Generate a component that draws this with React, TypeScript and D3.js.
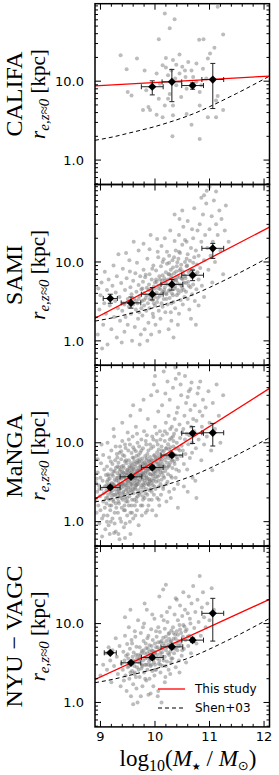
import * as React from 'react'
import * as d3 from 'd3'

type Pt = [number, number]
// [log mass, size, size low, size high, mass err]
type Bin = [number, number, number, number, number]

const surveys = ['CALIFA', 'SAMI', 'MaNGA', 'NYU − VAGC']

const xTickLabels = ['9', '10', '11', '12']
const xTickValues = [9, 10, 11, 12]
const yTickValues = [1, 10]
const yTickLabels = ['1.0', '10.0']

const fitMass = [8.9, 12.1]
const califaFit = [8.7, 11.6]
const samiFit = [1.94, 27.7]
const mangaFit = [1.93, 49]
const nyuFit = [1.96, 20.3]

const shenMass = [8.9, 9.25, 9.5, 9.75, 10, 10.25, 10.5, 10.75, 11, 11.25, 11.5, 11.75, 12.1]
const shenSize = [1.78, 1.98, 2.18, 2.4, 2.66, 3.0, 3.42, 3.98, 4.75, 5.75, 7.0, 8.6, 11.6]

const califaBins: Bin[] = [
  [9.95, 8.5, 6.7, 10.1, 0.2],
  [10.31, 9.8, 5.5, 14.1, 0.18],
  [10.69, 8.8, 7.9, 9.5, 0.2],
  [11.06, 10.5, 4.5, 16.8, 0.2],
]
const samiBins: Bin[] = [
  [9.18, 3.45, 3.0, 3.9, 0.13],
  [9.56, 3.03, 2.6, 3.6, 0.18],
  [9.95, 3.9, 3.3, 4.75, 0.2],
  [10.31, 5.2, 4.4, 6.0, 0.2],
  [10.69, 6.8, 5.8, 7.9, 0.2],
  [11.06, 14.9, 11.1, 17.2, 0.2],
]
const mangaBins: Bin[] = [
  [9.18, 2.72, 2.6, 2.85, 0.18],
  [9.56, 3.7, 3.55, 3.85, 0.2],
  [9.95, 4.87, 4.65, 5.1, 0.2],
  [10.31, 6.98, 6.6, 7.4, 0.2],
  [10.69, 13.2, 9.8, 16.0, 0.2],
  [11.06, 13.4, 9.1, 17.6, 0.2],
]
const nyuBins: Bin[] = [
  [9.18, 4.26, 4.1, 4.45, 0.11],
  [9.56, 3.18, 3.05, 3.3, 0.18],
  [9.95, 3.72, 3.55, 3.9, 0.2],
  [10.31, 5.07, 4.8, 5.35, 0.2],
  [10.69, 6.17, 5.8, 6.55, 0.2],
  [11.06, 13.5, 6.0, 20.9, 0.2],
]

const califaPts: Pt[] = [
  [10.18,72],[10.36,61],[10.27,47],[11.15,88],[10.07,34],[11.25,39],[10.81,33.5],[10.89,34],[9.37,21.3],[9.67,19.4],
  [11.01,22.4],[10.45,21.8],[10.2,19.7],[9.48,14.2],[9.81,13.7],[10.33,18.5],[10.39,16.2],[10.14,15.9],[10.2,14.9],[10.3,13.7],
  [10.5,15.2],[10.61,17.5],[10.55,13.7],[10.76,16.7],[11.09,26.5],[10.97,19.4],[10.45,12.5],[10.67,13.7],[10.88,14.4],[10.24,11.9],
  [10.03,12.5],[10.7,11.3],[10.37,10.8],[10.56,11.3],[10.09,9.3],[9.5,7.3],[9.57,6.6],[9.84,7.7],[10.24,6.0],[10.18,4.9],
  [10.33,4.9],[10.27,6.9],[10.82,7.3],[11.15,6.5],[11.12,5.7],[9.88,4.7],[9.91,4.3],[10.03,3.75],[10.14,3.5],[10.33,3.7],
  [10.58,3.85],[10.82,4.9],[10.97,3.5],[11.12,3.5],[11.25,4.3],[10.67,2.8],[10.32,2.0],[10.82,1.85],[9.78,4.3],[10.07,6.0],
  [10.48,6.3],[10.76,9.8],[10.94,10.8],[10.85,8.85],[10.39,8.85],[10.58,8.0],
]

const samiPts: Pt[] = [
  [8.95,1.2],[8.98,2.5],[9.0,3.8],[9.02,5.5],[9.05,1.6],[9.07,3.0],[9.08,7.5],[9.1,2.2],[9.12,4.4],[9.13,0.9],
  [9.15,6.0],[9.17,2.8],[9.18,3.5],[9.2,1.4],[9.22,5.0],[9.24,9.0],[9.25,2.0],[9.27,3.2],[9.28,4.1],[9.3,1.1],
  [9.3,6.6],[9.32,2.6],[9.33,12.5],[8.96,4.6],[9.03,0.8],[9.72,0.9],
  [9.35,3.6],[9.36,1.8],[9.38,5.4],[9.4,2.4],[9.41,8.2],[9.42,3.0],[9.44,1.3],[9.45,4.4],[9.46,2.0],[9.48,6.2],
  [9.5,3.4],[9.5,1.6],[9.52,2.7],[9.53,10.5],[9.55,4.8],[9.56,2.2],[9.57,3.9],[9.58,1.0],[9.6,5.8],[9.6,2.9],
  [9.62,3.4],[9.63,1.5],[9.64,7.2],[9.65,2.5],[9.66,4.2],[9.68,3.0],[9.69,1.9],[9.7,5.1],[9.7,14.0],[9.71,2.3],
  [9.72,3.7],[9.73,6.6],[9.74,1.2],[9.75,4.5],[9.39,0.95],[9.47,13.0],[9.61,18.0],[9.54,7.6],[9.67,9.8],[9.44,2.9],
  [9.76,3.2],[9.77,2.1],[9.78,5.6],[9.79,8.0],[9.8,2.8],[9.8,4.0],[9.81,1.4],[9.82,6.4],[9.83,3.5],[9.84,2.4],
  [9.85,4.7],[9.86,11.0],[9.87,3.0],[9.88,1.7],[9.89,5.2],[9.9,7.0],[9.9,2.6],[9.91,3.8],[9.92,4.4],[9.93,1.2],
  [9.94,6.0],[9.95,3.3],[9.96,2.2],[9.97,9.0],[9.98,4.9],[9.99,3.6],[10.0,5.5],[10.0,2.8],[10.01,1.6],[10.02,7.8],
  [10.03,4.1],[10.04,3.1],[10.05,13.5],[10.06,5.0],[10.07,2.4],[10.08,6.6],[10.09,3.7],[10.1,4.5],[10.1,1.9],[10.11,8.8],
  [10.12,3.0],[10.13,5.8],[10.14,2.7],[10.15,4.2],[9.79,17.0],[9.92,22.0],[10.04,19.5],[10.12,16.0],[9.86,1.0],[10.08,1.3],
  [9.83,6.9],[9.95,8.2],[10.0,3.9],[10.06,11.5],[9.9,14.5],[10.14,10.0],[9.77,4.6],[9.97,2.0],[10.02,6.0],[10.11,5.2],
  [10.16,3.4],[10.17,6.2],[10.18,4.8],[10.19,2.3],[10.2,7.4],[10.2,5.4],[10.21,3.9],[10.22,9.5],[10.23,2.9],[10.24,6.0],
  [10.25,4.3],[10.26,12.0],[10.27,3.5],[10.28,5.0],[10.29,8.0],[10.3,1.8],[10.3,6.8],[10.31,4.0],[10.32,10.5],[10.33,5.7],
  [10.34,3.1],[10.35,7.2],[10.36,4.6],[10.37,2.6],[10.38,14.0],[10.39,5.9],[10.4,8.8],[10.4,3.8],[10.41,6.5],[10.42,4.4],
  [10.43,11.0],[10.44,2.2],[10.45,7.8],[10.46,5.2],[10.47,3.3],[10.48,9.2],[10.49,6.2],[10.5,4.7],[10.5,16.5],[10.51,2.9],
  [10.52,7.0],[10.53,5.5],[10.54,3.6],[10.55,10.0],[10.18,20.0],[10.28,25.0],[10.36,18.5],[10.44,22.0],[10.52,28.0],[10.25,1.4],
  [10.42,1.6],[10.34,1.1],[10.22,13.5],[10.3,3.0],[10.46,13.0],[10.2,4.0],[10.38,6.0],[10.26,7.0],[10.48,4.3],[10.33,8.5],
  [10.41,9.9],[10.5,6.1],[10.16,10.8],[10.55,19.0],[10.29,2.3],[10.45,35.0],[10.5,45.0],[10.36,40.0],
  [10.56,6.2],[10.57,4.2],[10.58,8.8],[10.6,12.5],[10.6,3.4],[10.61,5.6],[10.62,7.4],[10.63,2.5],[10.64,10.4],[10.65,4.8],
  [10.66,15.0],[10.67,6.5],[10.68,3.9],[10.69,8.0],[10.7,20.0],[10.7,5.2],[10.72,11.5],[10.73,3.2],[10.74,7.0],[10.75,14.0],
  [10.76,4.5],[10.77,9.3],[10.78,25.0],[10.8,6.0],[10.8,12.0],[10.82,30.0],[10.83,8.4],[10.85,18.0],[10.86,5.0],[10.88,40.0],
  [10.9,10.5],[10.92,22.0],[10.94,55.0],[10.6,33.0],[10.72,48.0],[10.85,65.0],[10.95,80.0],[10.9,70.0],[10.98,95.0],[10.66,1.9],
  [10.8,2.8],[10.58,18.0],[10.9,3.6],[10.75,1.6],[10.68,26.0],
  [10.96,15.0],[10.98,8.0],[11.0,26.0],[11.02,12.0],[11.04,38.0],[11.05,5.5],[11.06,18.0],[11.08,60.0],[11.1,10.0],[11.12,30.0],
  [11.15,22.0],[11.18,45.0],[11.2,14.0],[11.22,35.0],[11.25,7.0],[11.28,25.0],[11.3,52.0],[11.35,18.0],[11.12,78.0],[11.0,90.0],
  [9.95,4.4],[9.98,3.0],[10.0,4.6],[10.03,5.6],[10.05,3.5],[10.07,4.6],[10.09,6.0],[10.12,4.0],[10.14,6.8],[10.17,4.4],
  [10.19,5.8],[10.21,3.4],[10.23,5.2],[10.25,7.0],[10.27,4.4],[10.29,6.2],[10.31,5.0],[10.33,3.8],[10.35,6.0],[10.37,4.9],
  [10.39,7.6],[10.41,5.4],[10.43,4.0],[10.45,6.4],[10.47,8.2],[10.49,5.0],[10.51,7.6],[10.53,4.4],[10.55,6.6],[10.57,5.4],
  [10.59,9.0],[10.62,5.0],[10.65,7.8],[9.85,3.8],[9.88,4.4],[9.9,3.4],[9.8,3.3],[9.75,2.6],[9.7,3.4],[9.65,3.2],
  [10.26,9.8],[10.35,11.5],[10.44,13.5],[10.58,11.0],[10.7,9.8],[10.78,7.4],
]

const mangaPts: Pt[] = [
  [8.91,1.9],[8.92,3.1],[8.93,1.3],[8.94,2.4],[8.95,4.2],[8.96,1.6],[8.97,2.9],[8.98,0.95],[8.99,2.1],[9.0,3.6],
  [9.0,1.4],[9.01,5.5],[9.02,2.6],[9.03,1.1],[9.04,3.3],[9.05,1.8],[9.05,7.0],[9.06,2.3],[9.07,4.6],[9.08,1.5],
  [9.08,2.8],[9.09,0.8],[9.1,3.9],[9.1,2.0],[8.95,6.2],[9.03,0.65],[8.98,2.6],[9.06,1.2],[9.02,9.5],[8.93,3.5],
  [9.11,2.5],[9.11,1.7],[9.12,3.2],[9.12,5.0],[9.13,1.2],[9.14,2.2],[9.14,4.0],[9.15,2.9],[9.15,0.9],[9.16,6.5],
  [9.16,1.9],[9.17,3.5],[9.18,2.4],[9.18,1.4],[9.19,4.6],[9.19,2.7],[9.2,8.0],[9.2,1.6],[9.21,3.1],[9.21,2.1],
  [9.22,5.4],[9.22,1.1],[9.23,3.8],[9.23,2.5],[9.24,1.8],[9.24,4.3],[9.25,2.9],[9.25,12.0],[9.26,1.3],[9.26,3.4],
  [9.27,6.0],[9.27,2.2],[9.28,0.75],[9.28,4.8],[9.29,2.6],[9.29,1.5],[9.3,3.6],[9.3,7.2],[9.13,10.0],[9.17,0.7],
  [9.24,15.0],[9.19,1.0],[9.28,9.0],[9.15,3.8],[9.22,2.9],
  [9.31,2.0],[9.31,4.1],[9.32,2.8],[9.32,1.3],[9.33,5.6],[9.33,3.3],[9.34,1.7],[9.34,2.4],[9.35,7.5],[9.35,3.9],
  [9.36,1.1],[9.36,2.9],[9.37,4.6],[9.37,2.1],[9.38,3.5],[9.38,6.2],[9.39,1.5],[9.39,2.7],[9.4,4.3],[9.4,10.5],
  [9.41,3.1],[9.41,1.9],[9.42,5.1],[9.42,2.4],[9.43,3.7],[9.43,0.85],[9.44,2.2],[9.44,6.8],[9.45,4.0],[9.45,1.4],
  [9.46,2.9],[9.46,8.6],[9.47,3.4],[9.47,1.8],[9.48,5.5],[9.48,2.6],[9.49,4.5],[9.49,1.2],[9.5,3.2],[9.5,13.5],
  [9.33,0.7],[9.36,9.0],[9.39,5.0],[9.42,3.0],[9.45,2.0],[9.48,3.9],[9.32,3.6],[9.35,2.3],[9.38,1.0],[9.41,7.0],
  [9.44,1.6],[9.47,6.0],[9.5,2.3],[9.4,18.0],[9.46,0.95],[9.34,4.9],[9.37,3.0],[9.43,4.8],[9.49,2.9],[9.31,6.5],
  [9.35,0.6],[9.45,0.62],[9.55,0.7],[9.25,0.72],
  [9.51,4.1],[9.51,2.7],[9.52,1.6],[9.52,6.0],[9.53,3.4],[9.53,2.1],[9.54,4.8],[9.54,9.5],[9.55,3.0],[9.55,1.3],
  [9.56,5.5],[9.56,2.5],[9.57,3.8],[9.57,7.4],[9.58,1.9],[9.58,4.4],[9.59,2.9],[9.59,12.0],[9.6,3.5],[9.6,1.1],
  [9.61,6.4],[9.61,2.3],[9.62,4.1],[9.62,8.2],[9.63,3.1],[9.63,1.6],[9.64,5.0],[9.64,2.7],[9.65,3.7],[9.65,16.0],
  [9.66,2.0],[9.66,6.8],[9.67,4.5],[9.67,1.4],[9.68,3.3],[9.68,10.0],[9.69,2.5],[9.69,5.6],[9.7,3.9],[9.7,0.9],
  [9.52,3.9],[9.54,1.0],[9.56,3.2],[9.58,2.4],[9.6,4.7],[9.62,5.8],[9.64,3.6],[9.66,4.2],[9.68,2.1],[9.7,7.0],
  [9.53,5.0],[9.57,1.6],[9.59,6.5],[9.61,3.9],[9.63,2.6],[9.65,7.8],[9.67,3.0],[9.69,4.0],[9.55,22.0],[9.6,30.0],
  [9.64,1.2],[9.57,4.9],[9.51,8.0],[9.66,2.9],[9.68,6.0],
  [9.71,3.2],[9.71,5.8],[9.72,2.2],[9.72,4.5],[9.73,7.5],[9.73,3.7],[9.74,1.6],[9.74,5.2],[9.75,2.9],[9.75,11.0],
  [9.76,4.1],[9.76,2.4],[9.77,6.3],[9.77,3.4],[9.78,1.9],[9.78,8.5],[9.79,4.8],[9.79,2.7],[9.8,3.9],[9.8,14.0],
  [9.81,5.6],[9.81,2.0],[9.82,3.1],[9.82,6.8],[9.83,4.4],[9.83,1.3],[9.84,2.6],[9.84,9.5],[9.85,5.0],[9.85,3.6],
  [9.86,2.2],[9.86,7.2],[9.87,4.2],[9.87,20.0],[9.88,3.0],[9.88,1.6],[9.89,5.9],[9.89,3.5],[9.9,4.7],[9.9,2.5],
  [9.72,6.2],[9.74,3.9],[9.76,1.2],[9.78,5.4],[9.8,2.9],[9.82,4.8],[9.84,6.0],[9.86,4.6],[9.88,8.0],[9.9,3.2],
  [9.73,26.0],[9.79,35.0],[9.85,12.5],[9.75,4.6],[9.81,3.6],[9.83,2.3],[9.87,3.0],[9.77,1.6],[9.89,1.9],[9.71,9.0],
  [9.91,4.0],[9.91,6.6],[9.92,2.6],[9.92,5.3],[9.93,8.5],[9.93,3.4],[9.94,4.6],[9.94,1.9],[9.95,6.0],[9.95,12.0],
  [9.96,3.8],[9.96,2.9],[9.97,5.1],[9.97,9.0],[9.98,4.3],[9.98,2.2],[9.99,7.0],[9.99,3.5],[10.0,5.6],[10.0,16.0],
  [10.01,4.1],[10.01,2.6],[10.02,6.4],[10.02,3.2],[10.03,10.5],[10.03,4.9],[10.04,2.0],[10.04,7.6],[10.05,3.7],[10.05,5.4],
  [10.06,25.0],[10.06,4.4],[10.07,8.2],[10.07,2.8],[10.08,6.1],[10.08,3.9],[10.09,14.0],[10.09,5.0],[10.1,3.0],[10.1,7.2],
  [9.93,40.0],[9.98,55.0],[10.04,45.0],[10.0,70.0],[10.08,1.6],[9.95,1.4],[10.02,1.2],[9.97,3.3],[10.05,9.5],[10.1,4.6],
  [10.11,5.8],[10.12,3.4],[10.12,9.0],[10.13,6.6],[10.14,4.2],[10.14,12.5],[10.15,2.6],[10.16,7.8],[10.16,5.0],[10.17,3.6],
  [10.18,10.5],[10.18,6.0],[10.19,4.4],[10.2,18.0],[10.2,8.4],[10.21,3.0],[10.22,5.6],[10.22,13.0],[10.23,7.0],[10.24,4.0],
  [10.24,9.6],[10.25,22.0],[10.26,5.2],[10.26,2.4],[10.27,6.8],[10.28,15.0],[10.28,8.8],[10.29,3.8],[10.3,11.5],[10.3,6.2],
  [10.13,30.0],[10.19,42.0],[10.23,60.0],[10.27,35.0],[10.16,80.0],[10.21,1.8],[10.29,2.0],[10.15,4.8],[10.25,5.0],[10.11,2.2],
  [10.31,7.4],[10.32,4.8],[10.33,12.0],[10.34,9.0],[10.35,5.8],[10.36,20.0],[10.37,7.0],[10.38,3.6],[10.39,14.5],[10.4,10.0],
  [10.41,6.2],[10.42,28.0],[10.43,8.4],[10.44,4.4],[10.45,17.0],[10.46,11.5],[10.47,6.8],[10.48,40.0],[10.49,9.2],[10.5,13.5],
  [10.33,50.0],[10.38,65.0],[10.44,75.0],[10.47,55.0],[10.35,2.6],[10.42,3.0],[10.31,16.0],[10.4,24.0],[10.45,8.0],[10.37,90.0],
  [10.51,8.0],[10.52,15.0],[10.53,5.4],[10.54,22.0],[10.55,11.0],[10.56,7.2],[10.57,32.0],[10.58,13.0],[10.59,4.6],[10.6,18.0],
  [10.61,9.6],[10.62,45.0],[10.63,12.5],[10.64,6.4],[10.65,26.0],[10.66,16.0],[10.67,58.0],[10.68,10.0],[10.69,3.6],[10.7,20.0],
  [10.55,70.0],[10.6,38.0],[10.65,48.0],[10.53,2.8],[10.68,7.5],[10.76,2.0],[10.42,1.5],[10.6,2.4],
  [10.72,14.0],[10.73,30.0],[10.75,8.5],[10.76,19.0],[10.78,42.0],[10.8,11.0],[10.82,25.0],[10.83,60.0],[10.85,6.0],[10.86,16.0],
  [10.88,35.0],[10.9,9.5],[10.74,3.3],[10.8,50.0],[10.87,22.0],
  [10.93,28.0],[10.95,12.0],[10.98,45.0],[11.0,18.0],[11.03,8.0],[11.06,32.0],[11.1,15.0],[11.13,55.0],[11.17,22.0],[11.2,10.0],
  [11.25,40.0],[11.05,4.5],
  [9.11,2.9],[9.13,2.0],[9.14,3.4],[9.16,2.6],[9.17,1.6],[9.18,3.0],[9.2,2.3],[9.21,4.0],[9.23,1.9],[9.24,3.0],
  [9.25,2.2],[9.26,4.4],[9.27,2.8],[9.28,1.7],[9.29,3.3],[9.3,2.4],[9.31,5.0],[9.32,2.2],[9.33,1.8],[9.34,3.0],
  [9.35,4.4],[9.36,2.6],[9.37,3.6],[9.38,2.0],[9.39,4.0],[9.12,1.0],[9.19,5.8],[9.26,0.95],[9.33,2.6],[9.38,7.8],
  [9.4,3.0],[9.41,2.3],[9.42,4.2],[9.43,2.8],[9.44,3.6],[9.45,5.8],[9.46,2.5],[9.47,4.2],[9.48,3.1],[9.49,2.0],
  [9.5,4.6],[9.51,3.3],[9.52,2.4],[9.53,4.4],[9.54,3.6],[9.55,2.7],[9.56,4.2],[9.57,3.0],[9.58,5.2],[9.59,3.7],
  [9.6,2.6],[9.61,4.6],[9.62,3.3],[9.63,5.4],[9.64,4.0],[9.65,2.9],[9.66,3.5],[9.67,5.6],[9.68,4.4],[9.69,3.0],
  [9.7,4.8],[9.43,1.4],[9.5,1.8],[9.58,1.3],[9.66,1.8],[9.45,9.5],[9.52,11.0],[9.6,8.8],[9.67,13.0],[9.62,1.9],
  [9.7,2.3],[9.71,4.4],[9.72,3.4],[9.73,5.0],[9.74,2.7],[9.75,3.8],[9.76,5.8],[9.77,4.0],[9.78,3.0],[9.79,4.2],
  [9.8,5.2],[9.81,3.3],[9.82,4.2],[9.83,5.4],[9.84,3.8],[9.85,6.4],[9.86,3.4],[9.87,5.4],[9.88,4.6],[9.89,2.9],
  [9.9,5.8],[9.91,3.3],[9.92,4.0],[9.93,6.0],[9.94,3.1],[9.95,4.6],[9.96,5.0],[9.97,4.0],[9.98,6.8],[9.99,4.8],
  [9.75,8.0],[9.83,10.5],[9.91,9.5],[9.97,11.0],[9.78,2.1],[9.86,1.4],[9.94,2.4],[9.99,2.8],
  [10.0,4.4],[10.01,6.2],[10.02,3.7],[10.03,5.8],[10.04,4.6],[10.05,6.8],[10.06,3.3],[10.07,5.4],[10.08,4.8],[10.09,6.4],
  [10.1,5.2],[10.11,4.2],[10.12,6.2],[10.13,8.0],[10.14,5.4],[10.15,3.8],[10.17,7.0],[10.18,5.0],[10.19,6.6],[10.21,8.6],
  [10.22,4.8],[10.24,6.4],[10.26,8.2],[10.28,5.6],[10.3,7.6],[10.32,6.0],[10.34,10.5],[10.36,5.4],[10.38,8.4],[10.4,6.6],
  [10.03,13.0],[10.1,11.0],[10.18,14.0],[10.27,11.0],[10.35,13.0],[10.07,1.9],[10.15,2.8],[10.23,3.2],[10.31,3.6],[10.39,4.6],
]

const nyuPts: Pt[] = [
  [9.0,2.2],[9.05,3.0],[9.1,4.2],[9.12,2.6],[9.15,5.0],[9.18,3.4],[9.2,1.8],[9.22,4.6],[9.25,2.9],[9.28,6.5],
  [9.3,3.8],[9.32,2.3],[9.35,5.2],[9.37,1.6],[9.39,3.1],
  [9.41,2.6],[9.42,4.4],[9.43,1.9],[9.44,3.4],[9.45,7.0],[9.46,2.2],[9.47,3.9],[9.48,1.4],[9.49,5.5],[9.5,2.8],
  [9.51,3.6],[9.52,9.0],[9.53,2.0],[9.54,4.8],[9.55,3.0],[9.56,1.2],[9.57,6.2],[9.58,2.5],[9.59,3.8],[9.6,1.7],
  [9.61,4.3],[9.62,2.9],[9.63,8.0],[9.64,3.3],[9.65,2.1],[9.66,5.1],[9.67,3.6],[9.68,1.0],[9.69,4.0],[9.7,2.6],
  [9.45,12.0],[9.55,15.0],[9.6,0.95],[9.5,4.1],[9.58,5.6],[9.62,2.3],[9.66,1.5],[9.53,3.2],[9.64,6.8],[9.69,11.0],
  [9.71,3.2],[9.72,5.0],[9.72,2.1],[9.73,3.9],[9.74,7.6],[9.75,2.7],[9.76,4.5],[9.77,1.6],[9.78,3.4],[9.79,6.0],
  [9.8,2.4],[9.8,10.0],[9.81,4.2],[9.82,3.0],[9.83,5.6],[9.84,1.9],[9.85,3.7],[9.85,15.0],[9.86,2.6],[9.87,4.8],
  [9.88,7.0],[9.89,3.3],[9.9,2.0],[9.9,5.3],[9.91,4.0],[9.92,1.3],[9.93,3.0],[9.93,8.5],[9.94,4.6],[9.95,2.5],
  [9.96,6.2],[9.97,3.5],[9.97,1.6],[9.98,4.2],[9.99,11.5],[10.0,3.0],[10.0,5.6],[9.74,1.2],[9.78,9.0],[9.82,2.0],
  [9.86,6.5],[9.88,1.25],[9.92,2.9],[9.96,3.9],[9.99,2.2],[9.76,3.0],[9.84,4.9],[9.9,3.6],[9.95,13.0],[9.81,18.0],
  [10.01,4.4],[10.02,2.6],[10.03,6.8],[10.04,3.6],[10.05,5.0],[10.06,1.4],[10.06,9.0],[10.07,3.1],[10.08,4.7],[10.09,7.8],
  [10.1,2.4],[10.1,5.8],[10.11,3.8],[10.12,12.5],[10.13,4.3],[10.14,2.9],[10.15,6.6],[10.15,27.0],[10.16,3.4],[10.17,5.2],
  [10.18,8.6],[10.19,2.1],[10.2,4.6],[10.2,31.0],[10.21,6.0],[10.22,3.3],[10.23,10.5],[10.24,5.4],[10.25,2.6],[10.25,7.4],
  [10.26,4.0],[10.27,16.0],[10.28,5.9],[10.29,3.2],[10.3,8.2],[10.3,4.8],[10.05,1.2],[10.12,1.0],[10.18,1.8],[10.08,22.0],
  [10.22,14.0],[10.28,2.3],[10.02,8.0],[10.16,11.0],[10.26,6.4],
  [10.31,5.6],[10.32,3.6],[10.33,9.0],[10.34,6.4],[10.35,4.2],[10.36,13.0],[10.37,7.2],[10.38,2.8],[10.39,5.0],[10.4,20.0],
  [10.4,8.0],[10.41,4.6],[10.42,11.0],[10.43,6.0],[10.44,3.4],[10.45,9.6],[10.46,17.0],[10.47,5.4],[10.48,7.6],[10.49,3.9],
  [10.5,12.5],[10.51,6.8],[10.52,25.0],[10.53,4.8],[10.54,9.2],[10.55,15.0],[10.56,6.2],[10.57,3.2],[10.58,8.4],[10.6,13.5],
  [10.61,5.2],[10.62,22.0],[10.63,7.0],[10.65,10.0],[10.66,4.2],[10.67,18.0],[10.68,6.6],[10.7,30.0],[10.38,21.0],[10.45,2.4],
  [10.72,8.8],[10.74,14.0],[10.76,5.6],[10.78,20.0],[10.8,10.5],[10.82,40.0],[10.84,7.0],[10.86,16.0],[10.88,25.0],[10.9,12.0],
  [10.93,9.0],[10.96,18.0],[11.0,11.0],[11.04,28.0],[11.08,15.0],
  [9.72,3.6],[9.75,4.2],[9.77,2.9],[9.79,4.6],[9.82,3.6],[9.84,3.0],[9.86,4.2],[9.88,3.0],[9.9,4.4],[9.92,3.5],
  [9.94,5.2],[9.96,4.5],[9.98,3.2],[10.0,4.2],[10.02,5.0],[10.04,4.0],[10.06,5.8],[10.08,3.4],[10.1,4.2],[10.12,6.0],
  [10.14,4.8],[10.16,5.6],[10.18,3.8],[10.2,6.8],[10.22,5.0],[10.24,4.2],[10.26,7.6],[10.28,4.4],[10.3,6.0],[10.32,5.0],
  [10.34,7.6],[10.36,4.8],[10.38,6.4],[10.4,5.6],[10.42,7.2],[10.44,5.2],[10.46,8.4],[10.48,6.0],[10.5,4.6],[10.52,9.6],
  [9.6,3.4],[9.63,2.4],[9.65,4.0],[9.67,2.8],[9.7,3.5],[9.55,2.4],[9.58,3.3],[9.52,2.9],[10.0,2.6],[10.1,3.0],
  [10.2,2.9],[10.3,3.6],[10.56,8.0],[10.6,6.8],[10.64,11.5],
]

const panelPoints = [califaPts, samiPts, mangaPts, nyuPts]
const panelBins = [califaBins, samiBins, mangaBins, nyuBins]
const panelFits = [califaFit, samiFit, mangaFit, nyuFit]

const W = 279
const H = 775
const X0 = 95
const X1 = 269.5
const TOP = 3.7
const PH = 180.8

const sans = 'DejaVu Sans, sans-serif'
const serif = 'Liberation Serif, DejaVu Serif, serif'

export default function App() {
  const svgRef = React.useRef<SVGSVGElement>(null)

  React.useEffect(() => {
    if (!svgRef.current) return
    const svg = d3.select(svgRef.current)
    svg.selectAll('*').remove()

    const x = d3.scaleLinear().domain([8.9, 12.1]).range([X0, X1])
    const minorX = d3.range(45, 61).map((k) => k / 5).filter((v) => v > 8.9 && v < 12.1 && !Number.isInteger(v))

    surveys.forEach((name, i) => {
      const top = TOP + i * PH
      const bottom = top + PH
      const y = d3.scaleLog().domain([0.49, 96]).range([bottom, top])

      const clipId = `clip-${i}`
      svg.append('clipPath').attr('id', clipId)
        .append('rect').attr('x', X0).attr('y', top).attr('width', X1 - X0).attr('height', PH)

      const g = svg.append('g').attr('clip-path', `url(#${clipId})`)

      // scatter
      g.selectAll('circle.pt')
        .data(panelPoints[i])
        .join('circle')
        .attr('cx', (d) => x(d[0]))
        .attr('cy', (d) => y(d[1]))
        .attr('r', 2)
        .attr('fill', '#7a7a7a')
        .attr('fill-opacity', 0.5)

      // Shen+03
      const shen = d3.line<number>()
        .x((_, k) => x(shenMass[k]))
        .y((d) => y(d))
        .curve(d3.curveMonotoneX)
      g.append('path')
        .datum(shenSize)
        .attr('d', shen)
        .attr('fill', 'none')
        .attr('stroke', '#000')
        .attr('stroke-width', 1)
        .attr('stroke-dasharray', '4,3')

      // fit
      const fit = d3.line<number>().x((_, k) => x(fitMass[k])).y((d) => y(d))
      g.append('path')
        .datum(panelFits[i])
        .attr('d', fit)
        .attr('fill', 'none')
        .attr('stroke', '#ff0000')
        .attr('stroke-width', 1.3)

      // error bars + diamonds
      const cap = 2.5
      panelBins[i].forEach(([m, r, lo, hi, dm]) => {
        const cx = x(m)
        const cy = y(r)
        const eb = g.append('g').attr('stroke', '#222').attr('stroke-width', 1)
        eb.append('line').attr('x1', cx).attr('x2', cx).attr('y1', y(lo)).attr('y2', y(hi))
        eb.append('line').attr('x1', x(m - dm)).attr('x2', x(m + dm)).attr('y1', cy).attr('y2', cy)
        eb.append('line').attr('x1', cx - cap).attr('x2', cx + cap).attr('y1', y(lo)).attr('y2', y(lo))
        eb.append('line').attr('x1', cx - cap).attr('x2', cx + cap).attr('y1', y(hi)).attr('y2', y(hi))
        eb.append('line').attr('x1', x(m - dm)).attr('x2', x(m - dm)).attr('y1', cy - cap).attr('y2', cy + cap)
        eb.append('line').attr('x1', x(m + dm)).attr('x2', x(m + dm)).attr('y1', cy - cap).attr('y2', cy + cap)
        g.append('path')
          .attr('d', d3.symbol().type(d3.symbolSquare).size(34)())
          .attr('transform', `translate(${cx},${cy}) rotate(45)`)
          .attr('fill', '#000')
      })

      // ticks
      const ax = svg.append('g').attr('stroke', '#000').attr('stroke-width', 1)
      xTickValues.forEach((v) => {
        ax.append('line').attr('x1', x(v)).attr('x2', x(v)).attr('y1', bottom).attr('y2', bottom - 6)
        ax.append('line').attr('x1', x(v)).attr('x2', x(v)).attr('y1', top).attr('y2', top + 6)
      })
      minorX.forEach((v) => {
        ax.append('line').attr('x1', x(v)).attr('x2', x(v)).attr('y1', bottom).attr('y2', bottom - 3)
        ax.append('line').attr('x1', x(v)).attr('x2', x(v)).attr('y1', top).attr('y2', top + 3)
      })
      y.ticks().forEach((v) => {
        const major = yTickValues.includes(v)
        const len = major ? 6 : 3
        ax.append('line').attr('x1', X0).attr('x2', X0 + len).attr('y1', y(v)).attr('y2', y(v))
        ax.append('line').attr('x1', X1).attr('x2', X1 - len).attr('y1', y(v)).attr('y2', y(v))
      })

      // frame
      svg.append('rect')
        .attr('x', X0).attr('y', top).attr('width', X1 - X0).attr('height', PH)
        .attr('fill', 'none').attr('stroke', '#000').attr('stroke-width', 1.5)

      // y tick labels
      yTickValues.forEach((v, k) => {
        svg.append('text')
          .attr('x', 84)
          .attr('y', y(v))
          .attr('dy', '0.36em')
          .attr('text-anchor', 'end')
          .attr('font-family', sans)
          .attr('font-size', 13)
          .text(yTickLabels[k])
      })

      // survey name
      const cy = top + PH / 2
      svg.append('text')
        .attr('transform', `translate(22,${cy}) rotate(-90)`)
        .attr('text-anchor', 'middle')
        .attr('font-family', serif)
        .attr('font-size', 24)
        .text(name)

      // r_e label
      const lab = svg.append('text')
        .attr('transform', `translate(45,${cy}) rotate(-90)`)
        .attr('text-anchor', 'middle')
        .attr('font-family', serif)
        .attr('font-size', 21)
      lab.append('tspan').attr('font-style', 'italic').text('r')
      lab.append('tspan').attr('font-style', 'italic').attr('font-size', 15).attr('dy', 4).text('e,z≈0')
      lab.append('tspan').attr('dy', -4).text(' [kpc]')
    })

    // x tick labels
    xTickValues.forEach((v, k) => {
      svg.append('text')
        .attr('x', x(v))
        .attr('y', 741)
        .attr('text-anchor', 'middle')
        .attr('font-family', sans)
        .attr('font-size', 13)
        .text(xTickLabels[k])
    })

    // x label
    const xl = svg.append('text')
      .attr('x', 188)
      .attr('y', 766)
      .attr('text-anchor', 'middle')
      .attr('font-family', serif)
      .attr('font-size', 23)
    xl.append('tspan').text('log')
    xl.append('tspan').attr('font-size', 16).attr('dy', 5).text('10')
    xl.append('tspan').attr('dy', -5).text('(')
    xl.append('tspan').attr('font-style', 'italic').text('M')
    xl.append('tspan').attr('font-family', sans).attr('font-size', 10).attr('dy', 4).text('★')
    xl.append('tspan').attr('dy', -4).text(' / ')
    xl.append('tspan').attr('font-style', 'italic').text('M')
    xl.append('tspan').attr('font-family', sans).attr('font-size', 13).attr('dy', 4).text('⊙')
    xl.append('tspan').attr('dy', -4).text(')')

    // legend
    const leg = svg.append('g')
    leg.append('line').attr('x1', 158).attr('x2', 185).attr('y1', 689).attr('y2', 689)
      .attr('stroke', '#ff0000').attr('stroke-width', 1.3)
    leg.append('text').attr('x', 195).attr('y', 689).attr('dy', '0.36em')
      .attr('font-family', sans).attr('font-size', 12).text('This study')
    leg.append('line').attr('x1', 158).attr('x2', 185).attr('y1', 708).attr('y2', 708)
      .attr('stroke', '#000').attr('stroke-width', 1).attr('stroke-dasharray', '4,3')
    leg.append('text').attr('x', 195).attr('y', 708).attr('dy', '0.36em')
      .attr('font-family', sans).attr('font-size', 12).text('Shen+03')
  }, [])

  return (
    <svg
      ref={svgRef}
      width={W}
      height={H}
      style={{ position: 'absolute', left: 0, top: 0, background: '#fff' }}
    />
  )
}
